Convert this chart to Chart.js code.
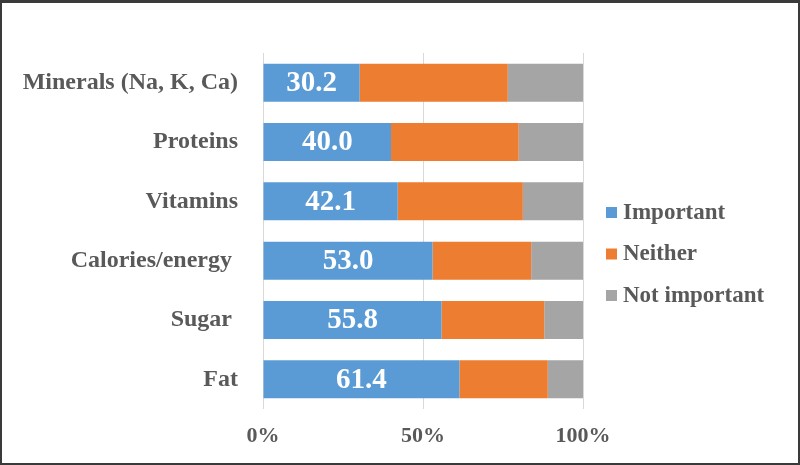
<!DOCTYPE html>
<html>
<head>
<meta charset="utf-8">
<script src="https://cdn.jsdelivr.net/npm/chart.js@4/dist/chart.umd.min.js"></script>
<style>
  html, body { margin: 0; padding: 0; background: #fff; }
  #wrap {
    width: 800px; height: 465px; box-sizing: border-box;
    border: 2px solid #3a3a3a; border-top-width: 3px;
    position: relative;
  }
  #chart { display: block; }
</style>
</head>
<body>
<div id="wrap"><canvas id="chart"></canvas></div>
<script>
// categories, top to bottom
const categories = ['Minerals (Na, K, Ca)', 'Proteins', 'Vitamins', 'Calories/energy ', 'Sugar ', 'Fat'];
// percent shares
const important = [30.2, 40.0, 42.1, 53.0, 55.8, 61.4];
const neither = [46.3, 39.9, 39.1, 30.8, 32.1, 27.6];
const notImportant = [23.5, 20.1, 18.8, 16.2, 12.1, 11.0];
const xTicks = [0, 50, 100];

const seriesNames = ['Important', 'Neither', 'Not important'];
const colors = ['#5B9BD5', '#ED7D31', '#A5A5A5'];
const textGray = '#595959';
const serif = '"Liberation Serif", "Times New Roman", serif';

const wrap = document.getElementById('wrap');
const canvas = document.getElementById('chart');
canvas.width = wrap.clientWidth;
canvas.height = wrap.clientHeight;

// white value labels in the blue segments
const valueLabels = {
  id: 'valueLabels',
  afterDatasetsDraw(chart) {
    const ctx = chart.ctx;
    const meta = chart.getDatasetMeta(0);
    ctx.save();
    ctx.fillStyle = '#ffffff';
    ctx.font = 'bold 29px ' + serif;
    ctx.textAlign = 'center';
    ctx.textBaseline = 'middle';
    meta.data.forEach((bar, i) => {
      const cx = (bar.x + bar.base) / 2;
      ctx.fillText(important[i].toFixed(1), cx, bar.y + 1);
    });
    ctx.restore();
  }
};

// legend on the right, drawn by hand
const sideLegend = {
  id: 'sideLegend',
  afterDraw(chart) {
    const ctx = chart.ctx;
    const area = chart.chartArea;
    const x0 = area.right + 23;
    let y = (area.top + area.bottom) / 2 - 19;
    ctx.save();
    ctx.font = 'bold 23px ' + serif;
    ctx.textBaseline = 'middle';
    chart.data.datasets.forEach(ds => {
      ctx.fillStyle = ds.backgroundColor;
      ctx.fillRect(x0, y - 5, 11, 11);
      ctx.fillStyle = textGray;
      ctx.fillText(ds.label, x0 + 17, y + 1);
      y += 41.5;
    });
    ctx.restore();
  }
};

new Chart(canvas, {
  type: 'bar',
  data: {
    labels: categories,
    datasets: [
      { label: seriesNames[0], data: important, backgroundColor: colors[0] },
      { label: seriesNames[1], data: neither, backgroundColor: colors[1] },
      { label: seriesNames[2], data: notImportant, backgroundColor: colors[2] }
    ]
  },
  options: {
    indexAxis: 'y',
    responsive: false,
    animation: false,
    layout: { padding: { left: 0, right: 215, top: 50, bottom: 12 } },
    datasets: { bar: { categoryPercentage: 0.8, barPercentage: 0.8, borderWidth: 0 } },
    scales: {
      x: {
        stacked: true,
        min: 0,
        max: 100,
        afterBuildTicks(scale) { scale.ticks = xTicks.map(v => ({ value: v })); },
        afterFit(scale) { scale.height = 42; },
        grid: { color: '#D9D9D9', lineWidth: 1, drawTicks: false },
        border: { display: false },
        ticks: {
          padding: 14,
          color: textGray,
          font: { family: serif, size: 22, weight: 'bold' },
          callback: v => v + '%'
        }
      },
      y: {
        stacked: true,
        afterFit(scale) { scale.width = 261; },
        grid: { display: false, drawTicks: false },
        border: { display: false },
        ticks: {
          padding: 25,
          color: textGray,
          font: { family: serif, size: 24, weight: 'bold' }
        }
      }
    },
    plugins: {
      legend: { display: false },
      tooltip: { enabled: false }
    }
  },
  plugins: [valueLabels, sideLegend]
});
</script>
</body>
</html>
